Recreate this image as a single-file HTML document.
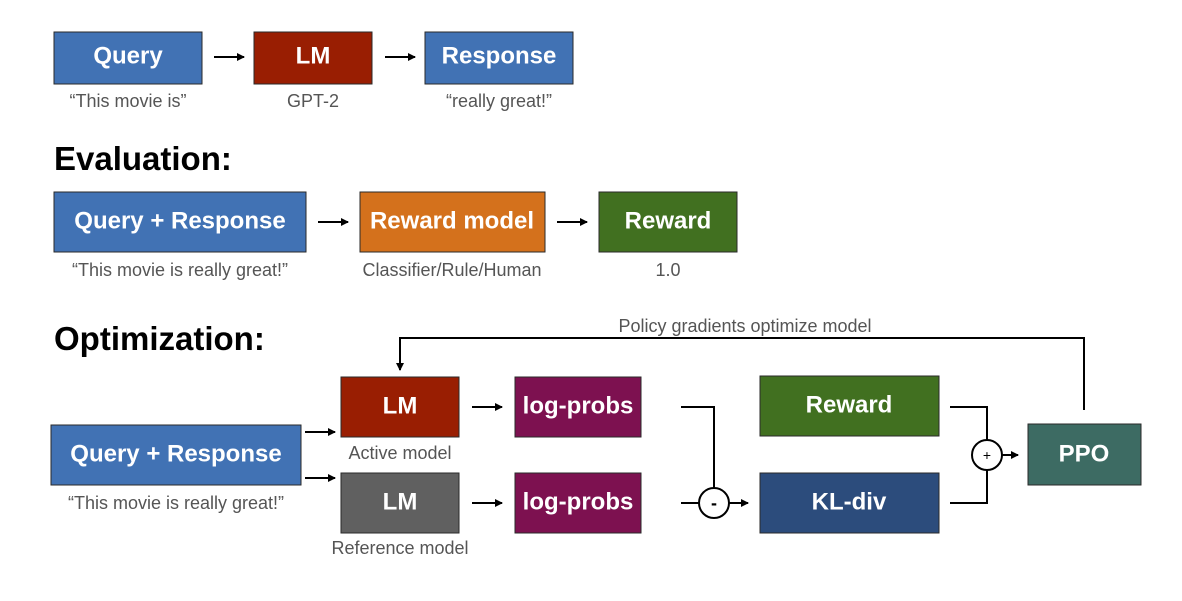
<!DOCTYPE html>
<html><head><meta charset="utf-8"><style>
html,body{margin:0;padding:0;background:#fff;}
svg{display:block;}
text{font-family:"Liberation Sans",sans-serif;}
.bt{fill:#fff;font-size:24px;font-weight:bold;text-anchor:middle;dominant-baseline:central;}
.lb{fill:#555;font-size:18px;text-anchor:middle;}
.hd{fill:#000;font-size:33px;font-weight:bold;}
.bx{stroke:#2a2a2a;stroke-width:1;}
.ln{stroke:#000;stroke-width:2;fill:none;}
</style></head><body>
<svg width="1182" height="601" viewBox="0 0 1182 601" xmlns="http://www.w3.org/2000/svg">
<defs><marker id="a" markerWidth="8" markerHeight="8" refX="7" refY="4" orient="auto" markerUnits="userSpaceOnUse"><path d="M0,0 L8,4 L0,8 z" fill="#000"/></marker></defs>

<rect class="bx" x="54" y="32" width="148" height="52" fill="#4172b4"/>
<text class="bt" x="128" y="56">Query</text>
<rect class="bx" x="254" y="32" width="118" height="52" fill="#991e02"/>
<text class="bt" x="313" y="56">LM</text>
<rect class="bx" x="425" y="32" width="148" height="52" fill="#4172b4"/>
<text class="bt" x="499" y="56">Response</text>
<line class="ln" x1="214" y1="57" x2="244" y2="57" marker-end="url(#a)"/>
<line class="ln" x1="385" y1="57" x2="415" y2="57" marker-end="url(#a)"/>
<text class="lb" x="128" y="107">“This movie is”</text>
<text class="lb" x="313" y="107">GPT-2</text>
<text class="lb" x="499" y="107">“really great!”</text>

<text class="hd" x="54" y="170">Evaluation:</text>

<rect class="bx" x="54" y="192" width="252" height="60" fill="#4172b4"/>
<text class="bt" x="180" y="221">Query + Response</text>
<rect class="bx" x="360" y="192" width="185" height="60" fill="#d4711c"/>
<text class="bt" x="452" y="221">Reward model</text>
<rect class="bx" x="599" y="192" width="138" height="60" fill="#417020"/>
<text class="bt" x="668" y="221">Reward</text>
<line class="ln" x1="318" y1="222" x2="348" y2="222" marker-end="url(#a)"/>
<line class="ln" x1="557" y1="222" x2="587" y2="222" marker-end="url(#a)"/>
<text class="lb" x="180" y="276">“This movie is really great!”</text>
<text class="lb" x="452" y="276">Classifier/Rule/Human</text>
<text class="lb" x="668" y="276">1.0</text>

<text class="hd" x="54" y="350">Optimization:</text>

<text class="lb" x="745" y="332">Policy gradients optimize model</text>
<polyline class="ln" points="1084,410 1084,338 400,338 400,370" marker-end="url(#a)"/>

<rect class="bx" x="51" y="425" width="250" height="60" fill="#4172b4"/>
<text class="bt" x="176" y="454">Query + Response</text>
<text class="lb" x="176" y="509">“This movie is really great!”</text>

<line class="ln" x1="305" y1="432" x2="335" y2="432" marker-end="url(#a)"/>
<line class="ln" x1="305" y1="478" x2="335" y2="478" marker-end="url(#a)"/>

<rect class="bx" x="341" y="377" width="118" height="60" fill="#991e02"/>
<text class="bt" x="400" y="406">LM</text>
<text class="lb" x="400" y="459">Active model</text>
<rect class="bx" x="341" y="473" width="118" height="60" fill="#606060"/>
<text class="bt" x="400" y="502">LM</text>
<text class="lb" x="400" y="554">Reference model</text>

<line class="ln" x1="472" y1="407" x2="502" y2="407" marker-end="url(#a)"/>
<line class="ln" x1="472" y1="503" x2="502" y2="503" marker-end="url(#a)"/>

<rect class="bx" x="515" y="377" width="126" height="60" fill="#7d1150"/>
<text class="bt" x="578" y="406">log-probs</text>
<rect class="bx" x="515" y="473" width="126" height="60" fill="#7d1150"/>
<text class="bt" x="578" y="502">log-probs</text>

<polyline class="ln" points="681,407 714,407 714,488"/>
<line class="ln" x1="681" y1="503" x2="699" y2="503"/>
<circle cx="714" cy="503" r="15" fill="#fff" stroke="#000" stroke-width="2"/>
<text x="714" y="509" text-anchor="middle" font-size="18" font-weight="bold" fill="#000">-</text>
<line class="ln" x1="729" y1="503" x2="748" y2="503" marker-end="url(#a)"/>

<rect class="bx" x="760" y="376" width="179" height="60" fill="#417020"/>
<text class="bt" x="849" y="405">Reward</text>
<rect class="bx" x="760" y="473" width="179" height="60" fill="#2c4c7c"/>
<text class="bt" x="849" y="502">KL-div</text>

<polyline class="ln" points="950,407 987,407 987,440"/>
<polyline class="ln" points="950,503 987,503 987,470"/>
<circle cx="987" cy="455" r="15" fill="#fff" stroke="#000" stroke-width="2"/>
<text x="987" y="460" text-anchor="middle" font-size="14" fill="#000">+</text>
<line class="ln" x1="1002" y1="455" x2="1018" y2="455" marker-end="url(#a)"/>

<rect class="bx" x="1028" y="424" width="113" height="61" fill="#3d6b63"/>
<text class="bt" x="1084" y="454">PPO</text>
</svg>
</body></html>
